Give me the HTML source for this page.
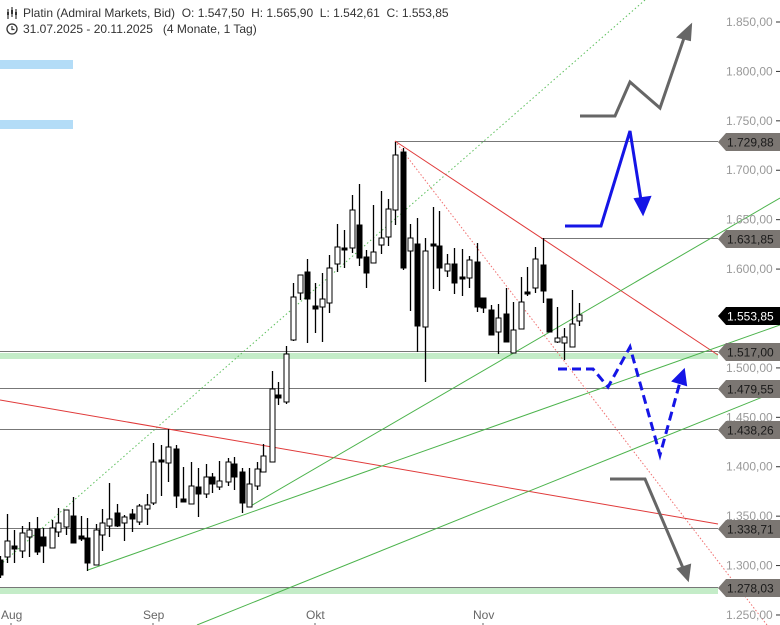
<!DOCTYPE html>
<html><head><meta charset="utf-8"><style>
html,body{margin:0;padding:0;background:#fff;width:780px;height:625px;overflow:hidden}
svg{display:block;font-family:"Liberation Sans",sans-serif}
.pre{white-space:pre}
</style></head><body>
<svg id="s" width="780" height="625" xmlns="http://www.w3.org/2000/svg">
<rect x="0" y="60" width="73" height="9" fill="#b3dcf7"/>
<rect x="0" y="120" width="73" height="9" fill="#b3dcf7"/>
<rect x="0" y="353" width="718" height="6" fill="#c4ecc8"/>
<rect x="0" y="588" width="718" height="6" fill="#c4ecc8"/>
<g stroke="#777" stroke-width="1">
<line x1="395" y1="141.5" x2="718" y2="141.5"/>
<line x1="541" y1="238.5" x2="718" y2="238.5"/>
<line x1="0" y1="351.5" x2="718" y2="351.5"/>
<line x1="0" y1="388.5" x2="718" y2="388.5"/>
<line x1="0" y1="429.5" x2="718" y2="429.5"/>
<line x1="0" y1="528.5" x2="718" y2="528.5"/>
<line x1="0" y1="587.5" x2="718" y2="587.5"/>
</g>
<g stroke-width="1" fill="none">
<line x1="0" y1="565" x2="645" y2="0" stroke="#5cbf5c" stroke-dasharray="1.5,2.5"/>
<line x1="395" y1="141" x2="767" y2="625" stroke="#f07070" stroke-dasharray="1.5,2"/>
<line x1="0" y1="400" x2="718" y2="524" stroke="#e03a3a"/>
<line x1="395" y1="141" x2="718" y2="355" stroke="#e03a3a"/>
<line x1="249" y1="507" x2="780" y2="198" stroke="#4cb34c"/>
<line x1="88" y1="570" x2="780" y2="325" stroke="#4cb34c"/>
<line x1="197" y1="625" x2="780" y2="390" stroke="#4cb34c"/>
</g>
<g id="c"></g>
<g fill="none" stroke-linejoin="miter">
<polyline points="580,116 615,116 630,82 660,108 684,38" stroke="#666" stroke-width="3"/>
<polygon points="691,25 678,37 690,40" fill="#666" stroke="#666" stroke-width="2"/>
<polyline points="565,226 601,226 630,131 641,200" stroke="#1515e6" stroke-width="3"/>
<polygon points="643,214 635,199 650,197" fill="#1515e6" stroke="#1515e6" stroke-width="2"/>
<polyline points="558,369 593,369 608,387 630,347 660,455 680,382" stroke="#1515e6" stroke-width="3" stroke-dasharray="9,5"/>
<polygon points="684,370 673,381 686,385" fill="#1515e6" stroke="#1515e6" stroke-width="2"/>
<polyline points="610,479 645,479 683,568" stroke="#666" stroke-width="3"/>
<polygon points="688,580 678,569 690,565" fill="#666" stroke="#666" stroke-width="2"/>
</g>
<g id="ax" font-size="12" fill="#999"></g>
<g font-size="12" fill="#333">
<text class="pre" x="23" y="17">Platin (Admiral Markets, Bid)  O: 1.547,50  H: 1.565,90  L: 1.542,61  C: 1.553,85</text>
<text class="pre" x="23" y="33">31.07.2025 - 20.11.2025   (4 Monate, 1 Tag)</text>
<circle cx="12" cy="29" r="5" fill="none" stroke="#333" stroke-width="1.3"/>
<path d="M12 26v3.5h2.5" fill="none" stroke="#333" stroke-width="1.2"/>
<path d="M8 9v10M12 7v10M16 9v10" stroke="#333" stroke-width="1.2"/>
<rect x="7" y="12" width="2" height="3" fill="#333"/><rect x="11" y="10" width="2" height="4" fill="#333"/><rect x="15" y="12" width="2" height="3" fill="#333"/>
<text x="1" y="619" fill="#666">Aug</text>
<text x="143" y="619" fill="#666">Sep</text>
<text x="306" y="619" fill="#666">Okt</text>
<text x="473" y="619" fill="#666">Nov</text>
<path d="M11 623v2M153 623v2M315 623v2M483 623v2" stroke="#666"/>
</g>
</svg>
<script>
var C=[[0,560,575,556,578,1],[7,541,557,514,563,0],[14,546,549,530,563,1],[22,533,551,526,558,0],[29,530,537,522,557,0],[37,529,552,517,555,1],[43,537,546,528,563,1],[52,528,548,520,548,0],[58,523,532,508,537,0],[66,510,527,510,535,0],[73,516,543,497,543,1],[81,536,539,516,541,1],[87,538,563,518,571,1],[96,530,565,524,565,0],[102,523,535,509,551,0],[109,519,526,483,537,0],[117,513,526,504,527,1],[124,517,523,515,541,0],[132,514,519,509,532,1],[139,506,522,504,525,0],[147,505,509,494,525,0],[153,462,503,443,505,0],[161,460,462,445,496,1],[168,447,463,429,482,0],[176,449,496,445,508,1],[183,499,502,467,502,1],[191,486,504,462,504,0],[198,487,494,468,517,1],[206,477,494,464,498,0],[212,477,484,473,493,1],[219,481,487,461,490,0],[228,462,482,458,486,0],[234,464,477,457,490,1],[242,472,503,468,513,1],[249,484,507,468,507,0],[257,469,486,462,490,0],[263,456,472,444,472,0],[272,389,462,371,462,0],[278,395,398,382,405,1],[286,354,402,346,404,0],[293,297,340,283,341,0],[300,275,293,283,300,0],[307,272,299,259,343,1],[315,306,309,283,333,1],[322,299,307,273,342,0],[329,268,303,255,313,0],[337,247,264,224,272,0],[344,248,250,230,268,1],[352,210,248,195,253,0],[359,225,258,184,266,1],[366,257,273,250,288,1],[373,252,263,205,263,0],[381,238,245,191,254,0],[388,209,237,199,246,0],[395,155,210,142,225,0],[403,152,268,148,270,1],[410,238,251,224,311,0],[417,244,326,218,352,1],[425,251,327,238,382,0],[433,244,245,207,289,1],[439,246,268,211,291,1],[447,264,271,254,277,0],[454,264,283,248,294,1],[462,277,278,249,296,1],[469,260,278,256,288,0],[477,262,307,243,312,1],[483,298,308,298,313,1],[491,310,335,305,335,1],[498,318,332,304,354,0],[506,314,342,288,342,1],[513,330,353,302,353,0],[521,302,329,277,329,0],[527,292,294,267,296,1],[535,259,288,247,293,0],[543,265,291,238,303,1],[549,299,332,299,332,1],[557,338,342,307,343,0],[564,337,343,328,360,0],[572,324,347,290,347,0],[579,315,321,303,326,0]];
var g=document.getElementById("c"),h="";
C.forEach(function(c){var x=c[0]+0.5;h+='<line x1="'+x+'" y1="'+c[3]+'" x2="'+x+'" y2="'+c[4]+'" stroke="#000" stroke-width="1.3"/>';
var hh=Math.max(c[2]-c[1],2);h+='<rect x="'+(c[0]-2)+'" y="'+c[1]+'" width="5" height="'+hh+'" fill="'+(c[5]?'#000':'#fff')+'" stroke="#000" stroke-width="1"/>';});
g.innerHTML=h;
var ax=document.getElementById("ax"),a="";
for(var p=1850;p>=1250;p-=50){var y=22+(1850-p)*0.9883;var s=(p/1000|0)+"."+String(p%1000).padStart(3,"0")+",00";
a+='<text x="726" y="'+(y+4)+'">'+s+'</text><line x1="776" y1="'+y+'" x2="780" y2="'+y+'" stroke="#333"/>';}
var L=[[142,"1.729,88",0],[239,"1.631,85",0],[316,"1.553,85",1],[352,"1.517,00",0],[389,"1.479,55",0],[430,"1.438,26",0],[529,"1.338,71",0],[588,"1.278,03",0]];
L.forEach(function(l){var y=l[0];a+='<polygon points="718,'+y+' 726,'+(y-9)+' 780,'+(y-9)+' 780,'+(y+9)+' 726,'+(y+9)+'" fill="'+(l[2]?'#000':'#7b7672')+'"/><text x="727" y="'+(y+4.5)+'" fill="'+(l[2]?'#fff':'#1a1a1a')+'">'+l[1]+'</text>';});
ax.innerHTML=a;
</script>
</body></html>
